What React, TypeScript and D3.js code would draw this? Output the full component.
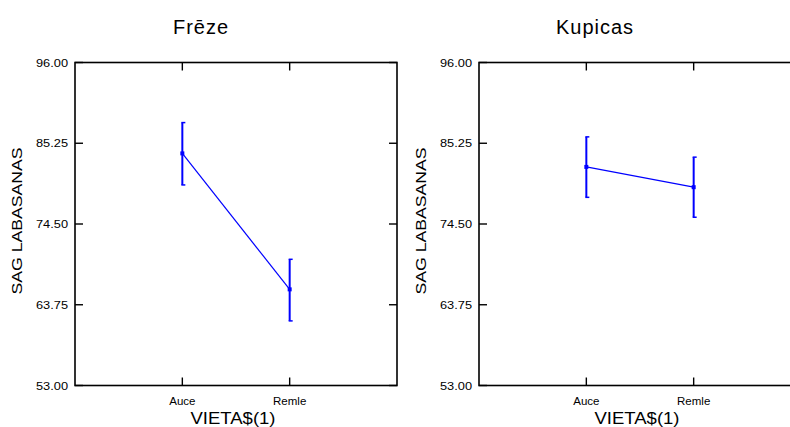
import React from "react";
import * as d3 from "d3";

const categories = ["Auce", "Remle"];
const panelTitles = ["Frēze", "Kupicas"];
const frezeMean = [83.9, 65.8];
const frezeLow = [79.7, 61.6];
const frezeHigh = [88.0, 69.8];
const kupicasMean = [82.1, 79.4];
const kupicasLow = [78.05, 75.4];
const kupicasHigh = [86.1, 83.4];
const yTicks = [53, 63.75, 74.5, 85.25, 96];

const series = [
  { mean: frezeMean, low: frezeLow, high: frezeHigh },
  { mean: kupicasMean, low: kupicasLow, high: kupicasHigh },
];

const W = 790;
const H = 427;
const panelW = 322;
const top = 62.5;
const bottom = 385.5;
const panelLeft = [75, 479];
const titleX = [201, 595];
const tickLen = 8;
const blue = "#0000ff";
const font = "Liberation Sans, Arial, sans-serif";

function Panel({ idx }: { idx: number }) {
  const x0 = panelLeft[idx];
  const d = series[idx];
  const x = d3.scalePoint().domain(categories).range([0, panelW]).padding(1);
  const y = d3.scaleLinear().domain([53, 96]).range([bottom, top]);
  const pts = categories.map((c, i) => ({ c, m: d.mean[i], lo: d.low[i], hi: d.high[i] }));
  const line = d3
    .line<{ c: string; m: number }>()
    .x((p) => x(p.c) as number)
    .y((p) => y(p.m));

  return (
    <g transform={`translate(${x0},0)`}>
      <text x={titleX[idx] - x0} y={34} textAnchor="middle" fontSize={20} fontFamily={font} letterSpacing={1}>
        {panelTitles[idx]}
      </text>
      <rect x={0} y={top} width={panelW} height={bottom - top} fill="none" stroke="#000" strokeWidth={1.6} />
      {yTicks.map((t) => (
        <g key={t}>
          <line x1={0} x2={tickLen} y1={y(t)} y2={y(t)} stroke="#000" strokeWidth={1.4} />
          <line x1={panelW} x2={panelW - tickLen} y1={y(t)} y2={y(t)} stroke="#000" strokeWidth={1.4} />
          <text x={-7} y={y(t) + 4} textAnchor="end" fontSize={11.5} fontFamily={font} textLength={32} lengthAdjust="spacingAndGlyphs">
            {t.toFixed(2)}
          </text>
        </g>
      ))}
      {categories.map((c) => (
        <g key={c}>
          <line x1={x(c)} x2={x(c)} y1={bottom} y2={bottom - tickLen} stroke="#000" strokeWidth={1.4} />
          <line x1={x(c)} x2={x(c)} y1={top} y2={top + tickLen} stroke="#000" strokeWidth={1.4} />
          <text x={x(c)} y={405} textAnchor="middle" fontSize={11.5} fontFamily={font}>
            {c}
          </text>
        </g>
      ))}
      <text x={panelW / 2 - 3} y={424} textAnchor="middle" fontSize={17} fontFamily={font} textLength={85} lengthAdjust="spacingAndGlyphs">
        VIETA$(1)
      </text>
      <text
        transform={`translate(-53,221) rotate(-90)`}
        textAnchor="middle"
        fontSize={15}
        fontFamily={font}
        textLength={147}
        lengthAdjust="spacingAndGlyphs"
      >
        SAG LABASANAS
      </text>
      <path d={line(pts) || ""} fill="none" stroke={blue} strokeWidth={1.2} />
      {pts.map((p) => {
        const px = x(p.c) as number;
        return (
          <g key={p.c}>
            <line x1={px} x2={px} y1={y(p.hi)} y2={y(p.lo)} stroke={blue} strokeWidth={2} />
            <line x1={px - 1} x2={px + 3} y1={y(p.hi)} y2={y(p.hi)} stroke={blue} strokeWidth={1.5} />
            <line x1={px - 1} x2={px + 3} y1={y(p.lo)} y2={y(p.lo)} stroke={blue} strokeWidth={1.5} />
            <rect x={px - 2} y={y(p.m) - 2} width={4} height={4} fill={blue} />
          </g>
        );
      })}
    </g>
  );
}

export default function App() {
  return (
    <svg width={W} height={H} style={{ position: "absolute", left: 0, top: 0, background: "#fff" }}>
      <rect width={W} height={H} fill="#fff" />
      <Panel idx={0} />
      <Panel idx={1} />
    </svg>
  );
}
